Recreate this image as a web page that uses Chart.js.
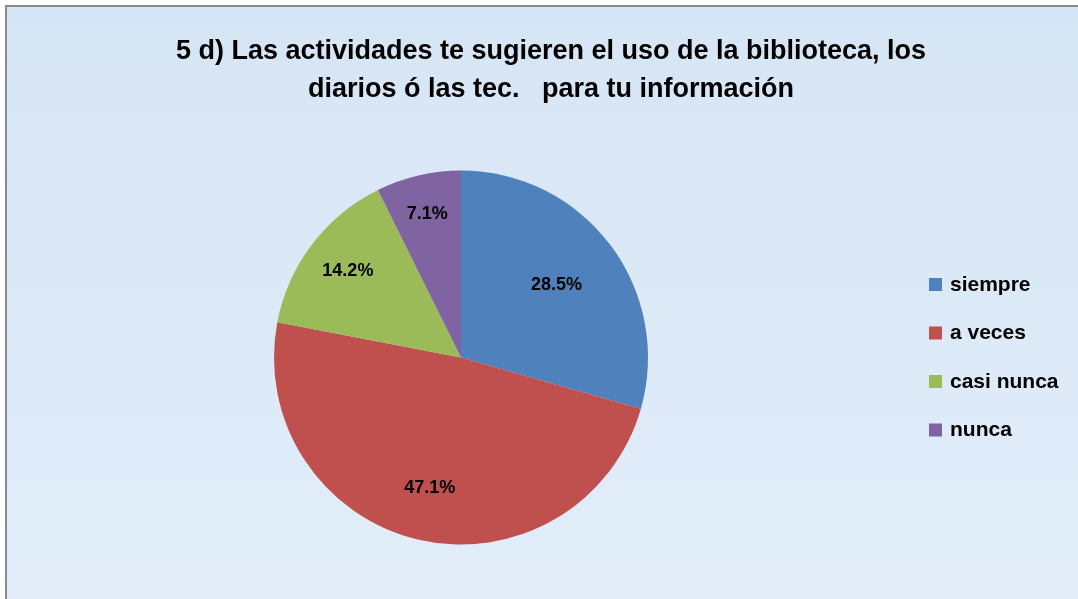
<!DOCTYPE html>
<html>
<head>
<meta charset="utf-8">
<script src="https://cdn.jsdelivr.net/npm/chart.js@4"></script>
<style>
  body { margin: 0; background: #ffffff; }
</style>
</head>
<body>
<canvas id="chart" width="1078" height="599"></canvas>
<script>
const titleLines = ['5 d) Las actividades te sugieren el uso de la biblioteca, los', 'diarios ó las tec.   para tu información'];
const categories = ['siempre', 'a veces', 'casi nunca', 'nunca'];
const values = [28.5, 47.1, 14.2, 7.1];
const colors = ['#4f81bd', '#c0504d', '#9bbb59', '#8064a2'];

// how far out each % label sits, as a share of the radius (Excel "best fit" look)
const labelDist = [0.64, 0.72, 0.76, 0.79];

// background, frame, title, legend and value labels
const decor = {
    id: 'decor',
    beforeDraw(chart) {
        const c = chart.ctx;
        c.save();
        const g = c.createLinearGradient(0, 0, 0, 599);
        g.addColorStop(0, '#d6e5f5');
        g.addColorStop(1, '#e2edf9');
        c.fillStyle = g;
        c.fillRect(6, 6, 1072, 593);
        c.fillStyle = '#8a8a8a';
        c.fillRect(5, 5, 1073, 2);
        c.fillRect(5, 5, 2, 594);
        c.restore();
    },
    afterDraw(chart) {
        const c = chart.ctx;
        c.save();
        c.fillStyle = '#000000';
        c.textAlign = 'center';
        c.textBaseline = 'middle';
        c.font = 'bold 27px "Liberation Sans", Arial, sans-serif';
        c.fillText(titleLines[0], 551, 52);
        c.fillText(titleLines[1], 551, 90);

        // legend
        c.textAlign = 'left';
        c.font = 'bold 21px "Liberation Sans", Arial, sans-serif';
        categories.forEach((name, i) => {
            const y = 285 + i * 48.5;
            c.fillStyle = colors[i];
            c.fillRect(929, y - 7, 13, 13);
            c.fillStyle = '#000000';
            c.fillText(name, 950, y);
        });

        // value labels
        c.textAlign = 'center';
        c.font = 'bold 18px "Liberation Sans", Arial, sans-serif';
        const meta = chart.getDatasetMeta(0);
        meta.data.forEach((arc, i) => {
            const p = arc.getProps(['x', 'y', 'startAngle', 'endAngle', 'outerRadius']);
            const mid = (p.startAngle + p.endAngle) / 2;
            const r = p.outerRadius * labelDist[i];
            c.fillText(values[i].toFixed(1) + '%', p.x + Math.cos(mid) * r, p.y + Math.sin(mid) * r);
        });
        c.restore();
    }
};

const ctx = document.getElementById('chart').getContext('2d');
const myChart = new Chart(ctx, {
    type: 'pie',
    data: {
        labels: categories,
        datasets: [{
            data: values,
            backgroundColor: colors,
            borderWidth: 0,
            hoverOffset: 0
        }]
    },
    options: {
        responsive: false,
        animation: false,
        layout: {
            padding: { left: 274, right: 430, top: 170, bottom: 54 }
        },
        plugins: {
            legend: { display: false },
            tooltip: { enabled: false }
        }
    },
    plugins: [decor]
});
</script>
</body>
</html>
